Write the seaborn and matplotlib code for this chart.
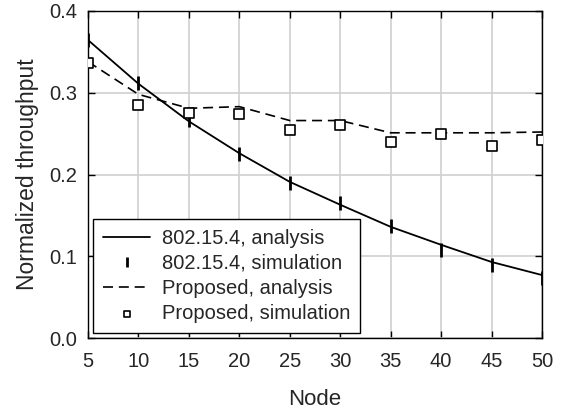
import matplotlib
matplotlib.use("Agg")
import matplotlib.pyplot as plt
import seaborn as sns
import pandas as pd

nodes = [5, 10, 15, 20, 25, 30, 35, 40, 45, 50]
std_analysis = [0.3645, 0.311, 0.265, 0.226, 0.191, 0.163, 0.136, 0.114, 0.093, 0.077]
std_simulation = [0.365, 0.312, 0.267, 0.225, 0.190, 0.165, 0.137, 0.108, 0.089, 0.074]
prop_analysis = [0.338, 0.298, 0.281, 0.283, 0.266, 0.266, 0.251, 0.251, 0.251, 0.252]
prop_simulation = [0.337, 0.285, 0.275, 0.274, 0.255, 0.261, 0.240, 0.249, 0.235, 0.242]

labels = ["802.15.4, analysis", "802.15.4, simulation",
          "Proposed, analysis", "Proposed, simulation"]

sns.set_style("whitegrid")
plt.rcParams['font.family'] = ['Liberation Sans', 'DejaVu Sans']

fig, ax = plt.subplots(figsize=(5.65, 4.12), dpi=100)
fig.subplots_adjust(left=88/565, right=542/565, top=1-11/412, bottom=1-338/412)

df = pd.DataFrame({"Node": nodes, "sa": std_analysis, "ss": std_simulation,
                   "pa": prop_analysis, "ps": prop_simulation})

sns.lineplot(data=df, x="Node", y="sa", ax=ax, color="black", lw=1.3, label=labels[0])
ax.plot(df["Node"], df["ss"], ls="none", marker="|", ms=10, mew=2.0, color="black", label=labels[1])
sns.lineplot(data=df, x="Node", y="pa", ax=ax, color="black", lw=1.2, label=labels[2])
ax.lines[-1].set_dashes([6, 3.5])
sns.scatterplot(data=df, x="Node", y="ps", ax=ax, marker="s", s=42, facecolor="white",
                edgecolor="black", linewidth=1.2, label=labels[3], zorder=5)

ax.set_xlim(5, 50)
ax.set_ylim(0, 0.4)
ax.set_xticks(nodes)
ax.set_yticks([0.0, 0.1, 0.2, 0.3, 0.4])
ax.set_yticklabels(["0.0", "0.1", "0.2", "0.3", "0.4"])
ax.set_xlabel("Node", fontsize=16, labelpad=13)
ax.set_ylabel("Normalized throughput", fontsize=16.5, labelpad=7)
ax.tick_params(axis="both", labelsize=14.5, direction="in", length=5, width=1,
               top=True, right=True, bottom=True, left=True, color="black")
ax.tick_params(axis="x", pad=10)
ax.tick_params(axis="y", pad=8)
ax.grid(True, color="#d0d0d0", lw=1.2)
for s in ax.spines.values():
    s.set_color("black")
    s.set_linewidth(1.0)

handles, lbls = ax.get_legend_handles_labels()
leg = ax.legend(handles, lbls, loc="lower left", fontsize=14.5, frameon=True, fancybox=False,
                edgecolor="black", framealpha=1, borderpad=0.5, labelspacing=0.3,
                handlelength=2.35, handletextpad=0.55, borderaxespad=0.25,
                markerscale=0.75)
leg.get_frame().set_linewidth(1.0)

fig.savefig("out.png", dpi=100)
